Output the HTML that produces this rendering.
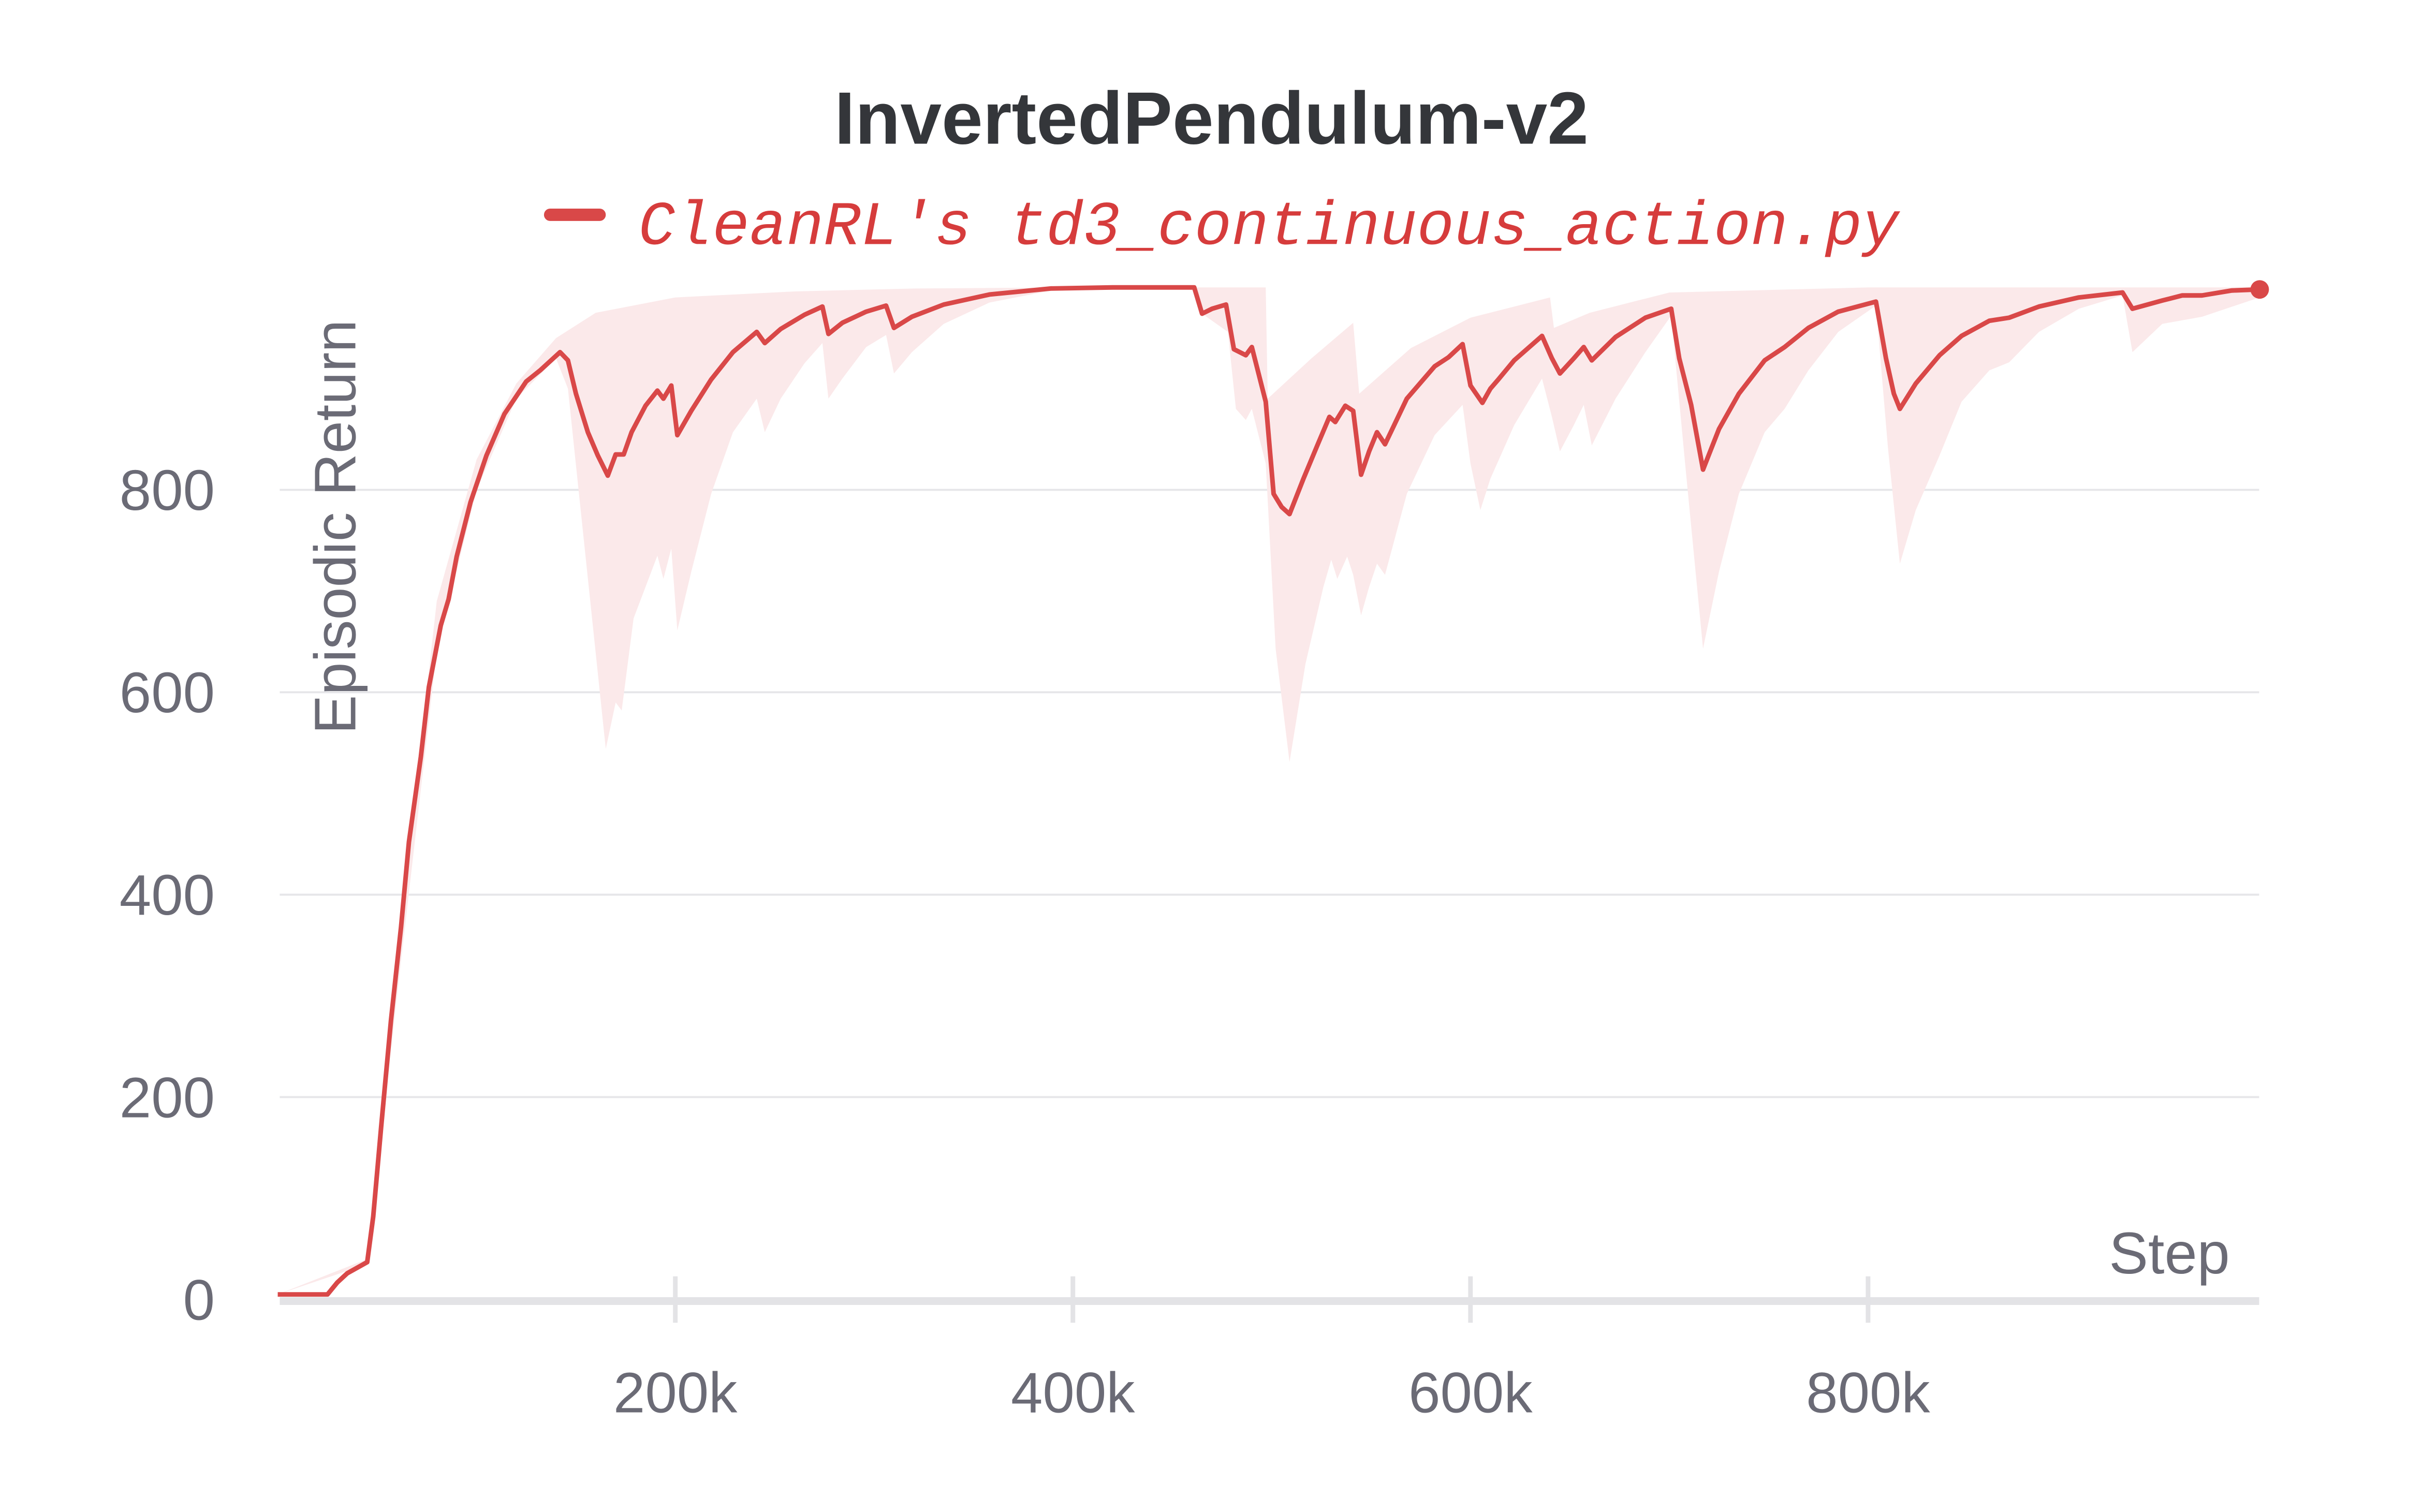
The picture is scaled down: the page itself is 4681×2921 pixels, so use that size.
<!DOCTYPE html>
<html><head><meta charset="utf-8"><style>
html,body{margin:0;padding:0;background:#fff;}
svg{display:block;}
</style></head><body>
<svg id="chart" width="4681" height="2921" viewBox="0 0 1568 978.5" xmlns="http://www.w3.org/2000/svg">
<text x="784" y="93" text-anchor="middle" font-family="Liberation Sans, sans-serif" font-weight="bold" font-size="48" fill="#34363a">InvertedPendulum-v2</text>
<g>
<line x1="356" y1="139" x2="388" y2="139" stroke="#d94848" stroke-width="8" stroke-linecap="round"/>
<text x="413" y="158" font-family="Liberation Mono, monospace" font-style="italic" font-size="40" fill="#d63c3c">CleanRL's td3_continuous_action.py</text>
</g>
<g id="grid"></g>
<g id="band"></g>
<g id="axes"></g>
<g id="series"></g>
<text transform="translate(230,341) rotate(-90)" text-anchor="middle" font-family="Liberation Sans, sans-serif" font-size="38" fill="#6b6b76">Episodic Return</text>
<text x="1443" y="824" text-anchor="end" font-family="Liberation Sans, sans-serif" font-size="38" fill="#6b6b76">Step</text>
</svg>
<script>
const steps=[0,25,30,35,45,48,52,57,62,66,72,76,82,86,90,97,105,114,125,132,142,146,150,156,161,166,170,174,178,185,191,194,198,201,208,218,229,241,245,253,265,274,277,284,296,306,310,319,335,358,389,420,461,465,470,477,481,487,490,497,501,505,509,516,523,529,532,537,541,545,549,553,557,568,582,589,596,600,606,610,614,622,636,641,645,652,657,661,673,688,701,705,711,717,725,735,748,758,770,785,804,809,813,816,824,836,847,861,871,886,906,928,933,948,958,968,983,997];
const meanVals=[5,5,17,26,37,82,170,276,368,452,536,605,666,692,734,788,834,875,907,918,936,928,895,857,834,814,835,835,857,883,898,890,903,854,878,909,936,956,945,959,973,981,954,965,976,982,960,971,983,993,999,1000,1000,974,979,983,939,933,941,887,796,783,776,811,844,872,867,883,878,815,838,857,845,890,922,931,944,903,886,900,909,928,952,930,915,930,941,928,951,970,979,930,884,820,860,895,928,941,960,976,986,930,895,880,905,933,952,967,970,981,990,995,979,987,992,992,997,998];
const lowSteps=[0,45,60,80,100,120,140,146,165,170,173,179,191,194,198,201,208,218,229,241,245,253,265,274,277,284,296,306,310,319,335,358,389,461,465,478,482,487,490,497,502,509,517,526,530,533,538,541,545,549,553,557,568,582,596,600,605,610,622,636,641,645,652,657,661,673,688,701,708,717,725,735,748,758,770,785,804,810,816,824,836,847,861,871,886,906,928,933,948,968,997];
const lowVals=[5,35,300,640,800,890,930,900,544,590,582,673,735,712,742,661,719,796,857,890,857,890,925,945,890,910,941,953,915,936,964,985,997,1000,974,956,880,869,880,826,643,531,628,704,731,712,734,716,676,704,727,716,796,854,884,826,780,811,864,910,872,838,864,884,844,890,936,972,826,643,719,796,857,880,918,956,982,841,727,780,834,887,918,926,956,979,992,936,964,971,990];
const upSteps=[0,45,60,80,100,120,140,160,200,260,320,400,497,498,520,541,544,570,600,640,642,660,700,800,997];
const upVals=[5,40,340,690,830,905,950,975,990,996,999,1000,1000,890,930,965,895,940,970,990,960,975,995,1000,1000];
const yTicks=[0,200,400,600,800];
const xTicks=[200,400,600,800];
const xTickLabels=["200k","400k","600k","800k"];
const NS="http://www.w3.org/2000/svg";
const X=k=>179.7+k*1.2865;
const Y=v=>841-v*131/200;
function mk(tag,attrs,parent){const e=document.createElementNS(NS,tag);for(const a in attrs)e.setAttribute(a,attrs[a]);parent.appendChild(e);return e;}
const grid=document.getElementById('grid'),axes=document.getElementById('axes'),band=document.getElementById('band'),series=document.getElementById('series');
yTicks.forEach(v=>{
 if(v>0){const l=mk('line',{x1:181,x2:1462,y1:Y(v),y2:Y(v),stroke:'#e6e6e9','stroke-width':1.3},grid);
 
 }
 const t=mk('text',{x:139,y:Y(v)+13,'text-anchor':'end','font-family':'Liberation Sans, sans-serif','font-size':37,fill:'#6b6b76'},axes);
 t.textContent=v;
 
 
});
const ax=mk('line',{x1:181,x2:1462,y1:842,y2:842,stroke:'#e3e3e6','stroke-width':5},axes);


xTicks.forEach((k,i)=>{
 const tk=mk('line',{x1:X(k),x2:X(k),y1:826,y2:856,stroke:'#e3e3e6','stroke-width':3},axes);
 
 
 const t=mk('text',{x:X(k),y:914,'text-anchor':'middle','font-family':'Liberation Sans, sans-serif','font-size':37,fill:'#6b6b76'},axes);
 t.textContent=xTickLabels[i];
 
 
});
let d='';
upSteps.forEach((k,i)=>{d+=(i?'L':'M')+X(k).toFixed(1)+','+Y(upVals[i]).toFixed(1);});
for(let i=lowSteps.length-1;i>=0;i--)d+='L'+X(lowSteps[i]).toFixed(1)+','+Y(lowVals[i]).toFixed(1);
const b=mk('path',{d:d+'Z',fill:'#fbe9ea'},band);


let ld='';
steps.forEach((k,i)=>{ld+=(i?'L':'M')+X(k).toFixed(1)+','+Y(meanVals[i]).toFixed(1);});
const ln=mk('path',{d:ld,fill:'none',stroke:'#d94848','stroke-width':3,'stroke-linejoin':'round'},series);


const n=steps.length-1;
const dot=mk('circle',{cx:X(steps[n]),cy:Y(meanVals[n]),r:6,fill:'#d94848'},series);


</script>
</body></html>
